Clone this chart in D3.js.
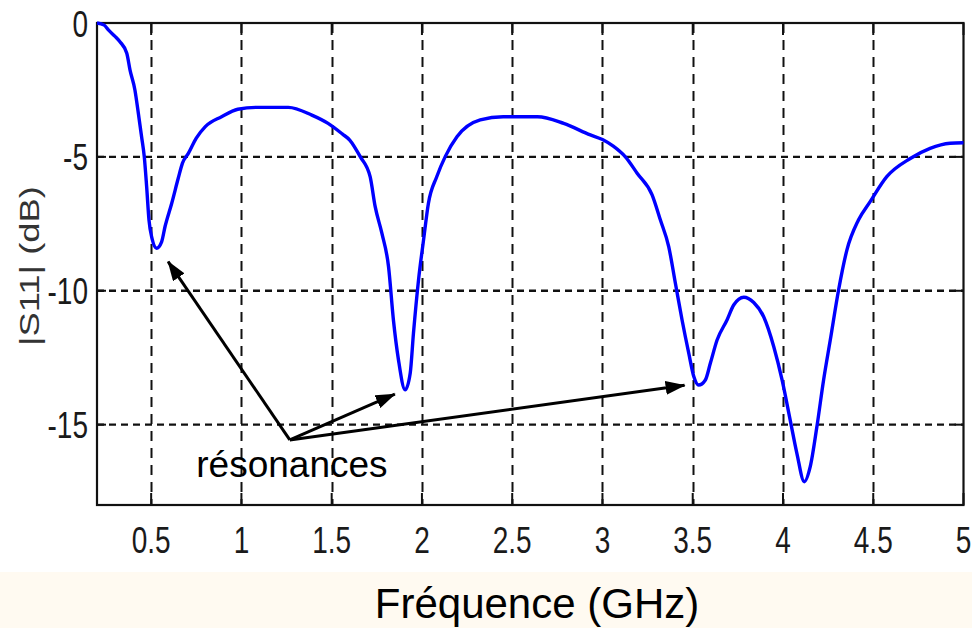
<!DOCTYPE html>
<html>
<head>
<meta charset="utf-8">
<script src="https://cdn.jsdelivr.net/npm/d3@7"></script>
<style>
  html, body { margin: 0; padding: 0; background: #ffffff; }
  svg { display: block; }
</style>
</head>
<body>
<svg id="chart" width="972" height="628"></svg>
<script>
// Measured reflection coefficient |S11| of the antenna versus frequency
const freqGHz = [
  0.20, 0.24, 0.263, 0.30, 0.327, 0.365, 0.383, 0.41, 0.429, 0.447,
  0.462, 0.475, 0.488, 0.505, 0.53, 0.558, 0.577, 0.614, 0.65, 0.673,
  0.706, 0.75, 0.80, 0.89, 0.98, 1.08, 1.26, 1.39, 1.48, 1.56,
  1.60, 1.658, 1.713, 1.741, 1.778, 1.815, 1.842, 1.87, 1.907, 1.935,
  1.953, 1.981, 2.009, 2.036, 2.082, 2.129, 2.194, 2.323, 2.45, 2.64,
  2.785, 2.933, 3.00, 3.06, 3.127, 3.192, 3.275, 3.321, 3.367, 3.404,
  3.441, 3.478, 3.506, 3.533, 3.57, 3.598, 3.635, 3.69, 3.727, 3.783,
  3.838, 3.893, 3.949, 3.995, 4.04, 4.077, 4.118, 4.151, 4.188, 4.225,
  4.262, 4.308, 4.354, 4.418, 4.483, 4.575, 4.705, 4.815, 4.926, 5.00
];
const s11dB = [
  0.00, -0.08, -0.26, -0.50, -0.70, -1.13, -1.76, -2.50, -3.37, -4.25,
  -5.00, -6.11, -7.36, -8.05, -8.41, -8.17, -7.60, -6.73, -5.80, -5.24,
  -4.87, -4.30, -3.87, -3.50, -3.22, -3.15, -3.15, -3.44, -3.75, -4.15,
  -4.37, -4.99, -5.74, -6.86, -7.85, -9.10, -11.09, -12.58, -13.70, -13.08,
  -11.59, -9.60, -8.10, -6.73, -5.74, -4.99, -4.25, -3.62, -3.50, -3.50,
  -3.75, -4.18, -4.35, -4.60, -5.00, -5.61, -6.42, -7.36, -8.35, -9.72,
  -11.09, -12.33, -13.20, -13.52, -13.33, -12.70, -11.84, -11.09, -10.53, -10.24,
  -10.44, -10.97, -12.09, -13.33, -14.83, -16.07, -17.13, -16.57, -15.07, -13.33,
  -11.84, -9.97, -8.48, -7.36, -6.67, -5.74, -5.06, -4.68, -4.49, -4.47
];

const xTicks = [0.5, 1, 1.5, 2, 2.5, 3, 3.5, 4, 4.5, 5];
const xTickLabels = ["0.5", "1", "1.5", "2", "2.5", "3", "3.5", "4", "4.5", "5"];
const yTicks = [0, -5, -10, -15];
const yTickLabels = ["0", "-5", "-10", "-15"];

// Callout: arrows from the label to each resonance dip (frequency, dB)
const resonanceTips = [[0.594, -8.91], [1.85, -13.86], [3.455, -13.53]];
const calloutOrigin = [1.268, -15.57];
const calloutText = "résonances";
const calloutTextPos = [0.75, -16.95];

const xTitle = "Fréquence (GHz)";
const yTitle = "|S11| (dB)";

const svg = d3.select("#chart");
const W = 972, H = 628;
const plot = { left: 97, right: 963.5, top: 23, bottom: 505 };

const x = d3.scaleLinear().domain([0.2, 5]).range([plot.left, plot.right]);
const y = d3.scaleLinear().domain([-18, 0]).range([plot.bottom, plot.top]);

// Background and bottom caption band
svg.append("rect").attr("x", 0).attr("y", 0).attr("width", W).attr("height", H).attr("fill", "#ffffff");
svg.append("rect").attr("x", 0).attr("y", 572).attr("width", W).attr("height", H - 572).attr("fill", "#fffaf1");

// Dashed grid
const grid = svg.append("g").attr("stroke", "#111").attr("fill", "none");
grid.selectAll("line.vg").data(xTicks.filter(d => d < 5)).join("line")
  .attr("class", "vg")
  .attr("x1", d => Math.round(x(d)) + 0.5).attr("x2", d => Math.round(x(d)) + 0.5)
  .attr("y1", plot.top).attr("y2", plot.bottom)
  .attr("stroke-width", 2).attr("stroke-dasharray", "10,7");
grid.selectAll("line.hg").data(yTicks.filter(d => d < 0)).join("line")
  .attr("class", "hg")
  .attr("x1", plot.left).attr("x2", plot.right)
  .attr("y1", d => y(d)).attr("y2", d => y(d))
  .attr("stroke-width", 2.4).attr("stroke-dasharray", "7,5");

// Inward tick marks on all four sides
const ticks = svg.append("g").attr("stroke", "#111").attr("stroke-width", 2);
xTicks.forEach(t => {
  const px = x(t);
  ticks.append("line").attr("x1", px).attr("x2", px).attr("y1", plot.bottom).attr("y2", plot.bottom - 12);
  ticks.append("line").attr("x1", px).attr("x2", px).attr("y1", plot.top).attr("y2", plot.top + 12);
});
yTicks.forEach(t => {
  const py = y(t);
  ticks.append("line").attr("x1", plot.left).attr("x2", plot.left + 9).attr("y1", py).attr("y2", py);
  ticks.append("line").attr("x1", plot.right).attr("x2", plot.right - 9).attr("y1", py).attr("y2", py);
});

// Axes frame
svg.append("rect")
  .attr("x", plot.left).attr("y", plot.top)
  .attr("width", plot.right - plot.left).attr("height", plot.bottom - plot.top)
  .attr("fill", "none").attr("stroke", "#111").attr("stroke-width", 2.2);

// Tick labels (tall, narrow MATLAB-style digits)
const labelFont = "'Liberation Sans', Arial, Helvetica, sans-serif";
const stretch = 1.35;
svg.append("g").selectAll("text").data(xTicks).join("text")
  .attr("transform", d => `translate(${x(d)},553) scale(1,${stretch})`)
  .attr("text-anchor", "middle")
  .attr("font-family", labelFont).attr("font-size", 28)
  .attr("fill", "#1a1a1a")
  .text((d, i) => xTickLabels[i]);
svg.append("g").selectAll("text").data(yTicks).join("text")
  .attr("transform", d => `translate(88,${y(d) + 13.5}) scale(1,${stretch})`)
  .attr("text-anchor", "end")
  .attr("font-family", labelFont).attr("font-size", 28)
  .attr("fill", "#1a1a1a")
  .text((d, i) => yTickLabels[i]);

// Y axis title
svg.append("text")
  .attr("transform", `translate(39,266) scale(1,1.3) rotate(-90)`)
  .attr("text-anchor", "middle")
  .attr("font-family", labelFont).attr("font-size", 28)
  .attr("fill", "#333")
  .text(yTitle);

// S11 curve
const series = freqGHz.map((f, i) => [f, s11dB[i]]);
svg.append("path")
  .datum(series)
  .attr("fill", "none")
  .attr("stroke", "#0000ff")
  .attr("stroke-width", 3.4)
  .attr("stroke-linejoin", "round")
  .attr("d", d3.line().x(d => x(d[0])).y(d => y(d[1])).curve(d3.curveMonotoneX));

// Resonance callout arrows
const defs = svg.append("defs");
defs.append("marker")
  .attr("id", "arrowhead")
  .attr("viewBox", "0 0 20 14")
  .attr("refX", 19).attr("refY", 7)
  .attr("markerWidth", 20).attr("markerHeight", 14)
  .attr("markerUnits", "userSpaceOnUse")
  .attr("orient", "auto")
  .append("path").attr("d", "M0,0 L20,7 L0,14 Z").attr("fill", "#000");

const ox = x(calloutOrigin[0]), oy = y(calloutOrigin[1]);
svg.append("g").selectAll("line").data(resonanceTips).join("line")
  .attr("x1", ox).attr("y1", oy)
  .attr("x2", d => x(d[0])).attr("y2", d => y(d[1]))
  .attr("stroke", "#000").attr("stroke-width", 3)
  .attr("marker-end", "url(#arrowhead)");

svg.append("text")
  .attr("x", x(calloutTextPos[0])).attr("y", y(calloutTextPos[1]))
  .attr("font-family", "Arial, 'Liberation Sans', sans-serif")
  .attr("font-size", 37)
  .attr("fill", "#000")
  .text(calloutText);

// X axis title in the caption band
svg.append("text")
  .attr("x", 537).attr("y", 618)
  .attr("text-anchor", "middle")
  .attr("font-family", "Arial, 'Liberation Sans', sans-serif")
  .attr("font-size", 42)
  .attr("fill", "#000")
  .text(xTitle);
</script>
</body>
</html>
